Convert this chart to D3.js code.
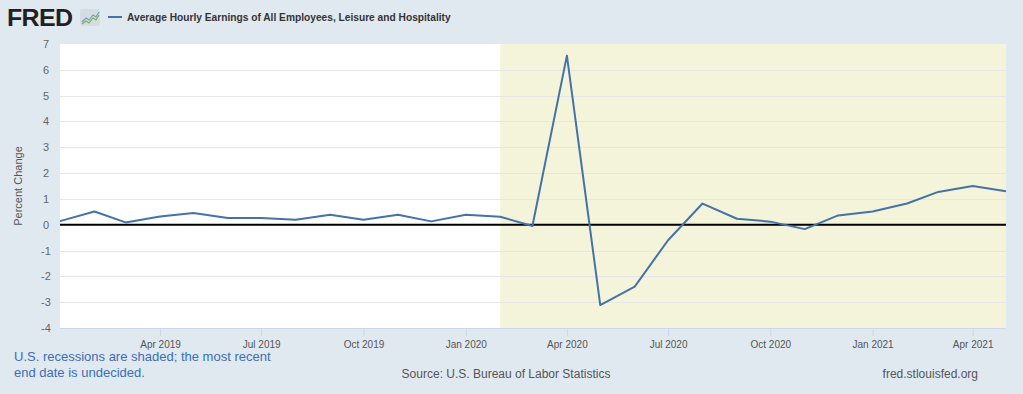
<!DOCTYPE html>
<html>
<head>
<meta charset="utf-8">
<script src="https://cdn.jsdelivr.net/npm/d3@7"></script>
<style>
  body { margin: 0; background: #e1e9f0; }
  svg text { font-family: "Liberation Sans", Arial, sans-serif; }
</style>
</head>
<body>
<div id="chart"></div>
<script>
// monthly percent change, Jan 2019 .. May 2021
var months = ["2019-01","2019-02","2019-03","2019-04","2019-05","2019-06","2019-07","2019-08","2019-09","2019-10","2019-11","2019-12",
              "2020-01","2020-02","2020-03","2020-04","2020-05","2020-06","2020-07","2020-08","2020-09","2020-10","2020-11","2020-12",
              "2021-01","2021-02","2021-03","2021-04","2021-05"];
var values = [0.14, 0.51, 0.09, 0.32, 0.45, 0.26, 0.26, 0.19, 0.39, 0.19, 0.39, 0.13,
              0.39, 0.31, -0.05, 6.55, -3.11, -2.40, -0.60, 0.82, 0.23, 0.12, -0.17, 0.36,
              0.51, 0.82, 1.27, 1.50, 1.30];
var yTicks = [-4, -3, -2, -1, 0, 1, 2, 3, 4, 5, 6, 7];
var xTicks = ["2019-04","2019-07","2019-10","2020-01","2020-04","2020-07","2020-10","2021-01","2021-04"];
var recessionStart = "2020-02";
var recessionEnd = "2021-05";

var svgWidth = 1023;
var svgHeight = 394;
var margin = { top: 44, right: 17, bottom: 66, left: 60 };
var width = svgWidth - margin.left - margin.right;
var height = svgHeight - margin.top - margin.bottom;

var parseMonth = d3.timeParse("%Y-%m");
var data = months.map(function(m, i) { return { date: parseMonth(m), value: values[i] }; });

var svg = d3.select("#chart")
    .append("svg")
    .attr("width", svgWidth)
    .attr("height", svgHeight);

svg.append("rect")
    .attr("width", svgWidth)
    .attr("height", svgHeight)
    .attr("fill", "#e1e9f0");

var chartGroup = svg.append("g")
    .attr("transform", `translate(${margin.left},${margin.top})`);

var xScale = d3.scaleTime()
    .domain(d3.extent(data, d => d.date))
    .range([0, width]);

var yScale = d3.scaleLinear()
    .domain([-4, 7])
    .range([height, 0]);

// plot background
chartGroup.append("rect")
    .attr("width", width)
    .attr("height", height)
    .attr("fill", "#ffffff");

// recession shading
chartGroup.append("rect")
    .attr("x", xScale(parseMonth(recessionStart)))
    .attr("y", 0)
    .attr("width", xScale(parseMonth(recessionEnd)) - xScale(parseMonth(recessionStart)))
    .attr("height", height)
    .attr("fill", "#f4f4da");

// grid lines
chartGroup.append("g")
    .selectAll("line")
    .data(yTicks.filter(t => t !== 7 && t !== -4))
    .enter()
    .append("line")
    .attr("x1", 0)
    .attr("x2", width)
    .attr("y1", d => Math.round(yScale(d)) + 0.5)
    .attr("y2", d => Math.round(yScale(d)) + 0.5)
    .attr("stroke", "#e6e6e6")
    .attr("stroke-width", 1);

// zero line
chartGroup.append("line")
    .attr("x1", 0)
    .attr("x2", width)
    .attr("y1", yScale(0))
    .attr("y2", yScale(0))
    .attr("stroke", "#000000")
    .attr("stroke-width", 2);

// y axis labels (plain hyphen for negatives)
var leftAxis = d3.axisLeft(yScale)
    .tickValues(yTicks)
    .tickFormat(d => String(d))
    .tickSize(0)
    .tickPadding(12);
var yAxis = chartGroup.append("g").call(leftAxis);
yAxis.select(".domain").remove();
yAxis.selectAll("text")
    .attr("fill", "#666666")
    .style("font-size", "11px")
    .attr("text-anchor", "middle")
    .attr("dx", "-2");

// x axis
var bottomAxis = d3.axisBottom(xScale)
    .tickValues(xTicks.map(parseMonth))
    .tickFormat(d3.timeFormat("%b %Y"))
    .tickSize(8)
    .tickPadding(5);
var xAxis = chartGroup.append("g")
    .attr("transform", `translate(0, ${height})`)
    .call(bottomAxis);
xAxis.select(".domain").attr("stroke", "#ccd6eb").attr("d", `M0,0.5H${width}`);
xAxis.selectAll(".tick line").attr("stroke", "#ccd6eb");
xAxis.selectAll("text")
    .attr("fill", "#555555")
    .style("font-size", "10px");

// the series line
var line = d3.line()
    .x(d => xScale(d.date))
    .y(d => yScale(d.value));

chartGroup.append("path")
    .datum(data)
    .attr("d", line)
    .attr("fill", "none")
    .attr("stroke", "#4572a7")
    .attr("stroke-width", 2)
    .attr("stroke-linejoin", "round");

// y axis title
svg.append("text")
    .attr("transform", "rotate(-90)")
    .attr("x", -(margin.top + height / 2))
    .attr("y", 22)
    .attr("text-anchor", "middle")
    .attr("fill", "#555555")
    .style("font-size", "11px")
    .text("Percent Change");

// header: FRED logo and legend
svg.append("text")
    .attr("transform", "translate(7,26) scale(1.04,1)")
    .attr("fill", "#231f20")
    .style("font-size", "24px")
    .style("font-weight", "900")
    .style("letter-spacing", "-0.6px")
    .text("FRED");

var icon = svg.append("g").attr("transform", "translate(80,9)");
icon.append("rect")
    .attr("width", 20).attr("height", 17).attr("rx", 2)
    .attr("fill", "#d5dde3");
icon.append("path")
    .attr("d", "M2,13 L6,9 L9,11 L13,6 L16,8 L19,3")
    .attr("fill", "none").attr("stroke", "#6d9bd1").attr("stroke-width", 1.2);
icon.append("path")
    .attr("d", "M2,15 L6,12 L9,14 L13,9 L16,11 L19,6")
    .attr("fill", "none").attr("stroke", "#7cb342").attr("stroke-width", 1.2);

svg.append("line")
    .attr("x1", 108).attr("x2", 122)
    .attr("y1", 17).attr("y2", 17)
    .attr("stroke", "#4572a7")
    .attr("stroke-width", 2);

svg.append("text")
    .attr("x", 127)
    .attr("y", 21)
    .attr("fill", "#333333")
    .style("font-size", "10.2px")
    .style("font-weight", "bold")
    .text("Average Hourly Earnings of All Employees, Leisure and Hospitality");

// footer
var note = svg.append("text")
    .attr("x", 14)
    .attr("y", 361)
    .attr("fill", "#3c6eb4")
    .style("font-size", "13px");
note.append("tspan").attr("x", 14).attr("dy", 0).text("U.S. recessions are shaded; the most recent");
note.append("tspan").attr("x", 14).attr("dy", 16).text("end date is undecided.");

svg.append("text")
    .attr("x", 506)
    .attr("y", 378)
    .attr("text-anchor", "middle")
    .attr("fill", "#555555")
    .style("font-size", "12px")
    .text("Source: U.S. Bureau of Labor Statistics");

svg.append("text")
    .attr("x", 978)
    .attr("y", 378)
    .attr("text-anchor", "end")
    .attr("fill", "#555555")
    .style("font-size", "12px")
    .text("fred.stlouisfed.org");
</script>
</body>
</html>
